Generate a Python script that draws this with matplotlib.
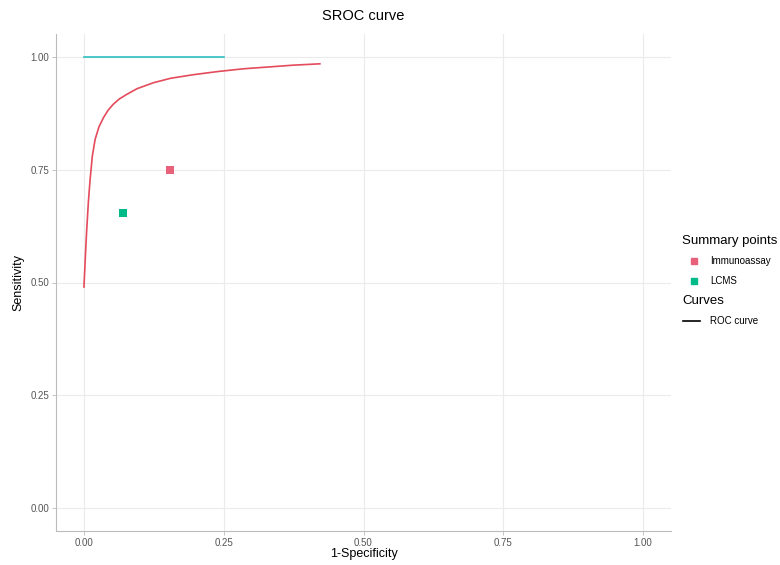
import matplotlib.pyplot as plt
from matplotlib.lines import Line2D

plt.rcParams['font.family'] = ['Liberation Sans', 'DejaVu Sans']

roc_fpr = [0.0, 0.003, 0.005, 0.008, 0.011, 0.015, 0.020, 0.027, 0.035, 0.043, 0.052,
           0.063, 0.076, 0.095, 0.124, 0.155, 0.196, 0.24, 0.285, 0.33, 0.374, 0.422]
roc_sens = [0.49, 0.57, 0.618, 0.68, 0.728, 0.78, 0.817, 0.845, 0.865, 0.881, 0.894,
            0.906, 0.916, 0.929, 0.942, 0.952, 0.960, 0.967, 0.973, 0.977, 0.981, 0.984]

# flat reference segment at sensitivity 1
ref_fpr = [0.0, 0.25]
ref_sens = [1.0, 1.0]

# summary points
groups = ['Immunoassay', 'LCMS']
summary_fpr = [0.154, 0.070]
summary_sens = [0.749, 0.653]
group_colors = ['#E9607A', '#00BA8A']

ticks = [0.0, 0.25, 0.50, 0.75, 1.0]
tick_labels = ['0.00', '0.25', '0.50', '0.75', '1.00']

W, H = 780, 565
fig = plt.figure(figsize=(W / 100, H / 100), dpi=100)
ax = fig.add_axes([56 / W, 1 - 531 / H, (671 - 56) / W, (531 - 34) / H])

ax.plot(ref_fpr, ref_sens, color='#2DBFC0', lw=1.2, zorder=3)
ax.plot(roc_fpr, roc_sens, color='#E44B5C', lw=1.2, zorder=3)
for f, s, c in zip(summary_fpr, summary_sens, group_colors):
    ax.scatter(f, s, marker='s', s=30, color=c, linewidths=0, zorder=4)

ax.set_xlim(-0.05, 1.05)
ax.set_ylim(-0.05, 1.05)
ax.set_xticks(ticks)
ax.set_xticklabels(tick_labels)
ax.set_yticks(ticks)
ax.set_yticklabels(tick_labels)
ax.tick_params(labelsize=7, colors='#555555', length=3, width=0.6, color='#BBBBBB', pad=2)
ax.grid(True, color='#EBEBEB', lw=0.8)
ax.set_axisbelow(True)
for side in ['top', 'right']:
    ax.spines[side].set_visible(False)
for side in ['left', 'bottom']:
    ax.spines[side].set_color('#BBBBBB')
    ax.spines[side].set_linewidth(0.8)

ax.set_xlabel('1-Specificity', fontsize=9, labelpad=0)
ax.set_ylabel('Sensitivity', fontsize=9, labelpad=4)
ax.set_title('SROC curve', fontsize=10.5, pad=10)


def fx(px):
    return px / W


def fy(py):
    return 1 - py / H


# legend drawn by hand on the figure, in pixel positions
fig.text(fx(682), fy(241), 'Summary points', fontsize=9.5, va='center', ha='left')
for name, c, py in zip(groups, group_colors, [261, 281]):
    fig.add_artist(Line2D([fx(694)], [fy(py)], marker='s', ls='none', color=c,
                          markersize=5, transform=fig.transFigure))
    fig.text(fx(710), fy(py), name, fontsize=7, va='center', ha='left')
fig.text(fx(682), fy(301), 'Curves', fontsize=9.5, va='center', ha='left')
fig.add_artist(Line2D([fx(683), fx(700)], [fy(321), fy(321)], color='black', lw=1.2,
                      transform=fig.transFigure))
fig.text(fx(710), fy(321), 'ROC curve', fontsize=7, va='center', ha='left')

fig.savefig('out.png', dpi=100, facecolor='white')
